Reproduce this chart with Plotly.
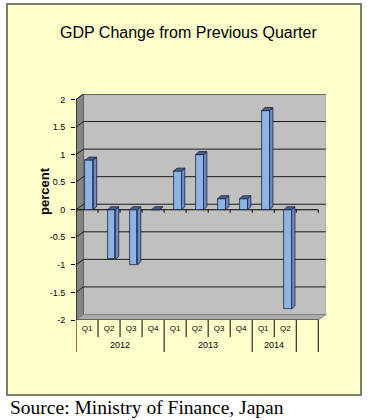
import plotly.graph_objects as go

# ---- data ----
quarters = ["Q1", "Q2", "Q3", "Q4", "Q1", "Q2", "Q3", "Q4", "Q1", "Q2"]
years = ["2012", "2013", "2014"]
year_counts = [4, 4, 2]
values = [0.9, -0.9, -1.0, 0.0, 0.7, 1.0, 0.2, 0.2, 1.8, -1.8]
ytick_vals = [-2, -1.5, -1, -0.5, 0, 0.5, 1, 1.5, 2]
ytick_text = ["-2", "-1.5", "-1", "-0.5", "0", "0.5", "1", "1.5", "2"]

W, H = 377, 420
L, R, T, B = 76, 51, 94, 100
n_cat = len(quarters) + 1  # one empty slot on the right
DX, DY = 0.34, 0.10        # wall depth (data units)
BX0, BW = -0.07, 0.36      # bar front face offset / width
SX, SY = 0.15, 0.055       # bar side depth
xr = [-0.5, n_cat - 0.5 + 0.35]
yr = [-2, 2 + DY]

pw = W - L - R
ph = H - T - B


def px(xp):
    return (xp - L) / pw


def py(yp):
    return (H - B - yp) / ph


FONT = "Arial, Liberation Sans, sans-serif"
xs = list(range(len(values)))
fig = go.Figure()

shapes = []
# outer yellow panel
shapes.append(dict(type="rect", xref="paper", yref="paper", x0=px(7), x1=px(361), y0=py(395), y1=py(4),
                   fillcolor="#FFFFCC", line=dict(color="#7F7F6A", width=2), layer="below"))
xl, xrgt = -0.5, n_cat - 0.5
ymin, ymax = ytick_vals[0], ytick_vals[-1]
# back wall
shapes.append(dict(type="rect", xref="x", yref="y", x0=xl + DX, x1=xrgt + DX, y0=ymin + DY, y1=ymax + DY,
                   fillcolor="#C0C0C0", line=dict(color="#A0A0A0", width=1), layer="below"))
# left wall
shapes.append(dict(type="path", xref="x", yref="y",
                   path=f"M{xl},{ymin} L{xl},{ymax} L{xl+DX},{ymax+DY} L{xl+DX},{ymin+DY} Z",
                   fillcolor="#858585", line=dict(color="#606060", width=1), layer="below"))
# floor
shapes.append(dict(type="path", xref="x", yref="y",
                   path=f"M{xl},{ymin} L{xrgt},{ymin} L{xrgt+DX},{ymin+DY} L{xl+DX},{ymin+DY} Z",
                   fillcolor="#ABABAB", line=dict(color="#808080", width=1), layer="below"))
# gridlines on back + left wall
for v in ytick_vals[1:]:
    shapes.append(dict(type="line", xref="x", yref="y", x0=xl + DX, x1=xrgt + DX, y0=v + DY, y1=v + DY,
                       line=dict(color="#1a1a1a", width=1), layer="below"))
    shapes.append(dict(type="line", xref="x", yref="y", x0=xl, x1=xl + DX, y0=v, y1=v + DY,
                       line=dict(color="#1a1a1a", width=1), layer="below"))
# front left edge (value axis line)
shapes.append(dict(type="line", xref="x", yref="y", x0=xl, x1=xl, y0=ymin, y1=ymax,
                   line=dict(color="black", width=1), layer="below"))
# front floor edge
shapes.append(dict(type="line", xref="x", yref="y", x0=xl, x1=xrgt, y0=ymin, y1=ymin,
                   line=dict(color="#505050", width=1.5), layer="below"))
# zero axis with ticks
shapes.append(dict(type="line", xref="x", yref="y", x0=xl, x1=xrgt, y0=0, y1=0,
                   line=dict(color="black", width=1), layer="below"))
for k in range(n_cat + 1):
    b = xl + k
    shapes.append(dict(type="line", xref="x", yref="y", x0=b, x1=b, y0=0, y1=-0.055,
                       line=dict(color="black", width=1), layer="below"))
# category separators
year_bounds = [0]
for c in year_counts:
    year_bounds.append(year_bounds[-1] + c)
year_bounds.append(n_cat)
for k in range(n_cat + 1):
    b = xl + k
    full = k in year_bounds
    shapes.append(dict(type="line", xref="x", yref="paper", x0=b, x1=b, y0=py(320),
                       y1=py(352) if full else py(337), line=dict(color="black", width=1)))

# bars: front faces
fig.add_trace(go.Bar(x=xs, y=values, offset=BX0, width=BW, marker=dict(color="#8DB4E2",
                     line=dict(color="#1c2440", width=0.8)), hoverinfo="skip", showlegend=False))
# side and top faces
for i, v in zip(xs, values):
    xa = i + BX0 + BW
    top = max(v, 0)
    bot = min(v, 0)
    fig.add_trace(go.Scatter(x=[xa, xa, xa + SX, xa + SX, xa], y=[bot, top, top + SY, bot + SY, bot],
                             fill="toself", fillcolor="#6A8CC8", mode="lines",
                             line=dict(color="#1c2440", width=0.8), hoverinfo="skip", showlegend=False))
    x0 = i + BX0
    fig.add_trace(go.Scatter(x=[x0, xa, xa + SX, x0 + SX, x0], y=[top, top, top + SY, top + SY, top],
                             fill="toself", fillcolor="#4A5F8E", mode="lines",
                             line=dict(color="#1c2440", width=0.8), hoverinfo="skip", showlegend=False))

annotations = []
annotations.append(dict(text="GDP Change from Previous Quarter", xref="paper", yref="paper",
                        x=px(188), y=py(33), xanchor="center", yanchor="middle", showarrow=False,
                        font=dict(family=FONT, size=16, color="black")))
annotations.append(dict(text="<b>percent</b>", xref="paper", yref="paper", x=px(44), y=py(191),
                        xanchor="center", yanchor="middle",
                        textangle=-90, showarrow=False, font=dict(family=FONT, size=13, color="black")))
start = 0
for yname, c in zip(years, year_counts):
    annotations.append(dict(text=yname, xref="x", yref="paper", x=start + (c - 1) / 2, y=py(345),
                            xanchor="center", yanchor="middle",
                            showarrow=False, font=dict(family=FONT, size=9, color="black")))
    start += c
annotations.append(dict(text="Source: Ministry of Finance, Japan", xref="paper", yref="paper",
                        x=px(8), y=py(407), xanchor="left", yanchor="middle", showarrow=False,
                        font=dict(family="Liberation Serif, Times New Roman, serif", size=19.5, color="black")))

fig.update_layout(
    width=W, height=H, margin=dict(l=L, r=R, t=T, b=B, autoexpand=False),
    paper_bgcolor="white", plot_bgcolor="rgba(0,0,0,0)",
    shapes=shapes, annotations=annotations, bargap=0,
    xaxis=dict(range=xr, tickvals=xs, ticktext=quarters, showgrid=False, zeroline=False, showline=False,
               ticks="", tickfont=dict(family=FONT, size=8, color="black"), ticklabelstandoff=2,
               automargin=False, fixedrange=True),
    yaxis=dict(range=yr, tickvals=ytick_vals, ticktext=ytick_text, showgrid=False, zeroline=False,
               showline=False, ticks="outside", ticklen=4, tickcolor="black",
               tickfont=dict(family=FONT, size=9, color="black"), ticklabelstandoff=4,
               automargin=False, fixedrange=True),
)
fig.write_html("out.html", config={"displayModeBar": False},
               post_script="document.body.style.margin='0';document.body.style.overflow='hidden';")
